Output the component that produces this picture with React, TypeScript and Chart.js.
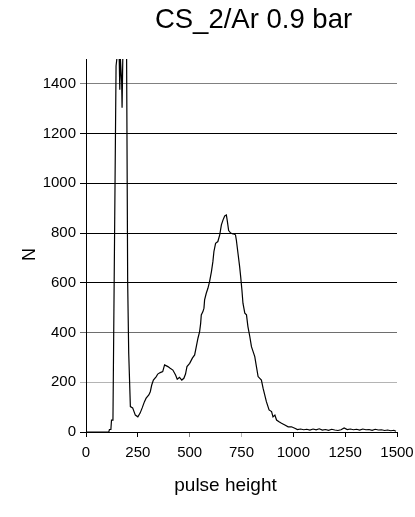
import React, { useEffect, useRef } from "react";
import { Chart, registerables } from "chart.js";

Chart.register(...registerables);

const chartTitle = "CS_2/Ar 0.9 bar";
const xAxisTitle = "pulse height";
const yAxisTitle = "N";

const xTicks = [0, 250, 500, 750, 1000, 1250, 1500];
const yTicks = [0, 200, 400, 600, 800, 1000, 1200, 1400];

const pulseHeight = [
  0, 100, 110, 113, 120, 123, 130, 145, 150, 160, 163, 166, 172, 174, 180, 195, 201, 206, 214, 225,
  238, 250, 261, 271, 282, 290, 303, 310, 317, 325, 339, 346, 358, 370, 379, 395, 406, 419, 432, 440,
  451, 462, 472, 480, 487, 500, 513, 524, 532, 540, 548, 553, 556, 564, 569, 572, 580, 588, 596, 605,
  612, 617, 625, 636, 645, 653, 661, 669, 677, 682, 688, 698, 709, 721, 725, 733, 741, 746, 752, 757,
  766, 774, 781, 790, 798, 806, 814, 822, 830, 846, 854, 862, 870, 883, 895, 902, 911, 919, 931, 943,
  959, 975, 991, 1007, 1020, 1035, 1050, 1065, 1080, 1095, 1110, 1125, 1140, 1155, 1170, 1185, 1200,
  1215, 1230, 1245, 1260, 1275, 1290, 1305, 1320, 1335, 1350, 1365, 1380, 1395, 1410, 1425, 1440,
  1455, 1470, 1485, 1495,
];

const counts = [
  0, 0, 0, 10, 10, 48, 48, 1472, 1510, 1510, 1376, 1500, 1410, 1304, 1650, 1650, 600, 318, 102, 97,
  68, 61, 76, 97, 122, 136, 149, 162, 189, 209, 223, 233, 239, 243, 270, 263, 256, 249, 229, 212,
  220, 209, 216, 233, 263, 276, 297, 310, 343, 377, 404, 437, 471, 484, 498, 531, 558, 578, 605, 645,
  685, 726, 759, 766, 793, 833, 853, 869, 873, 846, 810, 800, 797, 793, 773, 719, 665, 625, 571, 518,
  478, 471, 424, 384, 343, 323, 303, 263, 223, 209, 176, 149, 122, 89, 82, 61, 68, 48, 41, 35,
  28, 21, 21, 15, 10, 12, 9, 11, 8, 12, 9, 13, 8, 10, 7, 11, 8,
  6, 9, 16, 10, 12, 9, 11, 8, 12, 9, 10, 7, 11, 8, 9, 6,
  8, 5, 7, 3,
];

const FAMILY = "'Liberation Sans', Arial, Helvetica, sans-serif";

const yGridColor = (v: number) => {
  if (v === 200) return "#b4b4b4";
  if (v === 400) return "#6e6e6e";
  if (v === 1400) return "#808080";
  return "#000000";
};
const xTickColor = (v: number) => {
  if (v === 500) return "#808080";
  if (v === 750) return "#b4b4b4";
  return "#000000";
};

const textPlugin = {
  id: "texts",
  afterDraw(chart: any) {
    const { ctx, chartArea: a } = chart;
    const cx = (a.left + a.right) / 2;
    const cy = (a.top + a.bottom) / 2;
    ctx.save();
    ctx.fillStyle = "#000";
    ctx.textAlign = "center";
    ctx.textBaseline = "alphabetic";
    ctx.font = `27.5px ${FAMILY}`;
    ctx.fillText(chartTitle, cx + 12, a.top - 31);
    ctx.font = `19px ${FAMILY}`;
    ctx.fillText(xAxisTitle, cx - 16, a.bottom + 59);
    ctx.translate(a.left - 56, cy + 9);
    ctx.rotate(-Math.PI / 2);
    ctx.textBaseline = "middle";
    ctx.font = `18px ${FAMILY}`;
    ctx.fillText(yAxisTitle, 0, 0);
    ctx.restore();
  },
};

export default function App() {
  const ref = useRef<HTMLCanvasElement | null>(null);

  useEffect(() => {
    if (!ref.current) return;
    const chart = new Chart(ref.current, {
      type: "line",
      data: {
        datasets: [
          {
            data: pulseHeight.map((x, i) => ({ x, y: counts[i] })),
            borderColor: "#000",
            borderWidth: 1.2,
            pointRadius: 0,
            tension: 0,
            fill: false,
          },
        ],
      },
      options: {
        animation: false,
        responsive: false,
        devicePixelRatio: 1,
        layout: { padding: { top: 59, right: 18, left: 0, bottom: 0 } },
        plugins: {
          legend: { display: false },
          title: { display: false },
          tooltip: { enabled: false },
        },
        scales: {
          x: {
            type: "linear",
            min: 0,
            max: 1500,
            afterBuildTicks: (s: any) => {
              s.ticks = xTicks.map((v) => ({ value: v }));
            },
            afterFit: (s: any) => {
              s.height = 85;
              s.paddingLeft = 0;
              s.paddingRight = 0;
            },
            grid: {
              drawOnChartArea: false,
              drawTicks: true,
              tickLength: 5,
              color: (ctx: any) => xTickColor(ctx.tick ? ctx.tick.value : 0),
            },
            border: { display: true, color: "#000", width: 1 },
            ticks: {
              color: "#000",
              font: { family: FAMILY, size: 15 },
              padding: 7,
              maxRotation: 0,
              autoSkip: false,
              callback: (v: any) => String(v),
            },
          },
          y: {
            type: "linear",
            min: 0,
            max: 1500,
            afterBuildTicks: (s: any) => {
              s.ticks = yTicks.map((v) => ({ value: v }));
            },
            afterFit: (s: any) => {
              s.width = 86;
              s.paddingTop = 0;
              s.paddingBottom = 0;
            },
            grid: {
              drawTicks: true,
              tickLength: 6,
              color: (ctx: any) => yGridColor(ctx.tick ? ctx.tick.value : 0),
            },
            border: { display: true, color: "#000", width: 1 },
            ticks: {
              color: "#000",
              font: { family: FAMILY, size: 15 },
              padding: 4,
              autoSkip: false,
              callback: (v: any) => String(v),
            },
          },
        },
      },
      plugins: [textPlugin],
    });
    return () => chart.destroy();
  }, []);

  return (
    <div style={{ position: "absolute", left: 0, top: 0, width: 415, height: 517, background: "#fff" }}>
      <canvas ref={ref} width={415} height={517} style={{ width: 415, height: 517 }} />
    </div>
  );
}
